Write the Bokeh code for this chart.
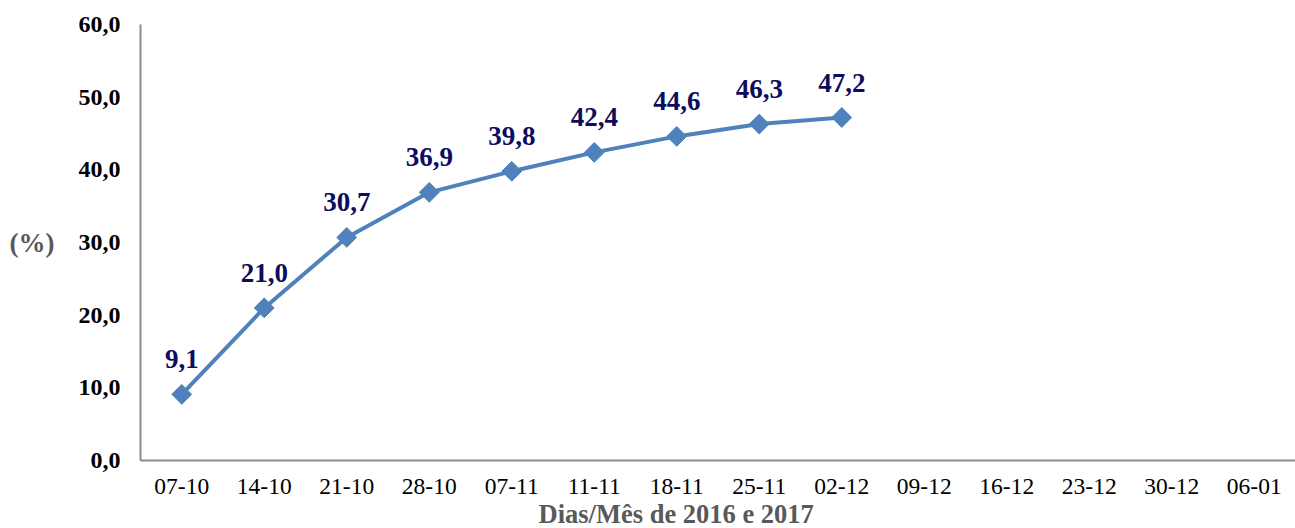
import math
from bokeh.plotting import figure
from bokeh.models import FactorRange, Range1d, FixedTicker, ColumnDataSource, Title
from bokeh.core.properties import value
from bokeh.embed import file_html
from bokeh.resources import INLINE

categories = ["07-10", "14-10", "21-10", "28-10", "07-11", "11-11", "18-11",
              "25-11", "02-12", "09-12", "16-12", "23-12", "30-12", "06-01"]
data_dates = ["07-10", "14-10", "21-10", "28-10", "07-11", "11-11", "18-11",
              "25-11", "02-12"]
values = [9.1, 21.0, 30.7, 36.9, 39.8, 42.4, 44.6, 46.3, 47.2]
y_ticks = [0, 10, 20, 30, 40, 50, 60]
y_tick_labels = ["0,0", "10,0", "20,0", "30,0", "40,0", "50,0", "60,0"]

labels = [f"{v:.1f}".replace(".", ",") for v in values]
src = ColumnDataSource(dict(x=data_dates, y=values, lab=labels))

FONT = "Liberation Serif"

p = figure(x_range=FactorRange(*categories, range_padding=0),
           y_range=Range1d(0, 60),
           width=1295, height=528,
           output_backend="svg", toolbar_location=None,
           min_border_left=140, min_border_right=0,
           min_border_top=24, min_border_bottom=0)

p.line("x", "y", source=src, line_color="#4F81BD", line_width=4)
p.scatter("x", "y", source=src, marker="square", angle=math.pi / 4,
          size=14, fill_color="#4F81BD", line_color="#4F81BD")
p.text("x", "y", text="lab", source=src, y_offset=-35,
       text_align="center", text_baseline="middle",
       text_font=value(FONT), text_font_style="bold",
       text_font_size="27px", text_color="#0D0D5E")

p.xgrid.visible = False
p.ygrid.visible = False
p.outline_line_color = None

p.yaxis.ticker = FixedTicker(ticks=y_ticks)
p.yaxis.major_label_overrides = {t: l for t, l in zip(y_ticks, y_tick_labels)}
p.yaxis.major_tick_line_color = None
p.yaxis.minor_tick_line_color = None
p.yaxis.major_label_text_font = FONT
p.yaxis.major_label_text_font_style = "bold"
p.yaxis.major_label_text_font_size = "24px"
p.yaxis.major_label_text_color = "#000000"
p.yaxis.major_label_standoff = 14
p.yaxis.axis_line_color = "#8C8C8C"
p.yaxis.axis_line_width = 2
p.yaxis.axis_label = "(%)"
p.yaxis.axis_label_orientation = "horizontal"
p.yaxis.axis_label_text_font = FONT
p.yaxis.axis_label_text_font_style = "bold"
p.yaxis.axis_label_text_font_size = "27px"
p.yaxis.axis_label_text_color = "#595959"
p.yaxis.axis_label_standoff = 21

p.xaxis.major_tick_line_color = None
p.xaxis.minor_tick_line_color = None
p.xaxis.major_label_text_font = FONT
p.xaxis.major_label_text_font_size = "23.5px"
p.xaxis.major_label_text_color = "#000000"
p.xaxis.major_label_standoff = 12
p.xaxis.axis_line_color = "#8C8C8C"
p.xaxis.axis_line_width = 2

xt = Title(text="Dias/Mês de 2016 e 2017", align="left", offset=398,
           text_font=FONT, text_font_style="bold", text_font_size="26.5px",
           text_color="#595959", standoff=0)
p.add_layout(xt, "below")

open("out.html", "w").write(file_html(p, INLINE))
